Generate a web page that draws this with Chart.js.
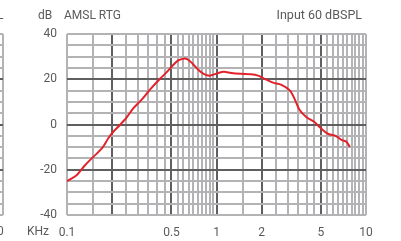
<!DOCTYPE html>
<html>
<head>
<meta charset="utf-8">
<script src="https://cdn.jsdelivr.net/npm/chart.js@4/dist/chart.umd.min.js"></script>
<style>
  html, body { margin: 0; padding: 0; background: #fff; }
</style>
</head>
<body>
<canvas id="chart" width="401" height="241"></canvas>
<script>
// frequency response
const freqs = [0.1, 0.116, 0.132, 0.15, 0.171, 0.189, 0.204, 0.226, 0.25, 0.278, 0.316, 0.36, 0.419, 0.47, 0.515, 0.555, 0.6, 0.64, 0.69, 0.755, 0.82, 0.9, 1.0, 1.12, 1.25, 1.45, 1.7, 1.9, 2.05, 2.39, 2.7, 3.1, 3.35, 3.6, 4.0, 4.5, 5.0, 5.6, 6.3, 6.9, 7.4, 7.8]
const levels = [-25, -22.4, -18, -14.3, -10.6, -6.1, -3.2, -0.2, 3, 7.2, 11, 15.5, 20.2, 23.5, 26.4, 28.3, 29.1, 28.8, 27.0, 24.2, 22.4, 21.6, 22.5, 23.3, 22.8, 22.4, 22.2, 21.6, 20.5, 18.5, 17.6, 15, 10.9, 6.4, 3.2, 1.2, -1.7, -4.2, -5.1, -6.9, -7.6, -9.9]

const xTickLabels = [0.1, 0.5, 1, 2, 5, 10]
const yTickLabels = [40, 20, 0, -20, -40]
const darkX = [0.2, 0.5, 1, 2, 5]
const darkY = [20, 0, -20]

const light = '#b3b3b5'
const dark = '#5f5f5f'
const textColor = '#5a5a5a'
const font = { family: 'Roboto', size: 12 }

// grid every 0.05 kHz below 1 kHz, every 0.5 kHz above
const gridFreqs = []
for (let i = 2; i <= 20; i++) gridFreqs.push(Math.round(i * 5) / 100)
for (let i = 3; i <= 20; i++) gridFreqs.push(i / 2)

const extraText = {
    id: 'extraText',
    afterDraw(chart) {
        const c = chart.ctx
        const y = chart.scales.y
        c.save()
        c.font = '12px Roboto'
        c.fillStyle = textColor
        c.textBaseline = 'middle'
        c.textAlign = 'left'
        c.fillText('dB', 38, 16)
        c.fillText('AMSL RTG', 64, 16)
        c.fillText('KHz', 27, 232)
        c.textAlign = 'right'
        c.font = '12.5px Roboto'
        c.fillText('Input 60 dBSPL', 362, 16)
        // edge of the neighbouring chart
        c.fillText('dBSPL', 3.5, 16)
        c.font = '12px Roboto'
        c.textAlign = 'center'
        c.fillText('10', -3, 232)
        c.lineWidth = 2
        c.strokeStyle = light
        c.beginPath()
        c.moveTo(3, y.top)
        c.lineTo(3, y.bottom)
        c.stroke()
        for (let v = -40; v <= 40; v += 5) {
            const py = Math.round(y.getPixelForValue(v))
            c.strokeStyle = darkY.includes(v) ? dark : light
            c.beginPath()
            c.moveTo(0, py)
            c.lineTo(3, py)
            c.stroke()
        }
        c.restore()
    }
}

const ctx = document.getElementById('chart').getContext('2d')

const chart = new Chart(ctx, {
    type: 'scatter',
    data: {
        datasets: [
            {
                data: freqs.map((f, i) => ({ x: f, y: levels[i] })),
                showLine: true,
                borderColor: '#e2222b',
                borderWidth: 2,
                pointRadius: 0,
                tension: 0.3,
                fill: false
            }
        ]
    },
    options: {
        responsive: false,
        animation: false,
        layout: { padding: { left: 0, right: 35, top: 34, bottom: 0 } },
        plugins: { legend: { display: false }, tooltip: { enabled: false } },
        scales: {
            x: {
                type: 'logarithmic',
                min: 0.1,
                max: 10,
                afterBuildTicks: scale => { scale.ticks = gridFreqs.map(v => ({ value: v })) },
                afterFit: scale => { scale.height = 26 },
                border: { display: false },
                grid: {
                    drawTicks: false,
                    lineWidth: 2,
                    color: c => darkX.includes(c.tick.value) ? dark : light
                },
                ticks: {
                    autoSkip: false,
                    maxRotation: 0,
                    padding: 11,
                    color: textColor,
                    font: font,
                    callback: v => xTickLabels.includes(v) ? String(v) : ''
                }
            },
            y: {
                min: -40,
                max: 40,
                afterFit: scale => { scale.width = 67 },
                border: { display: false },
                grid: {
                    drawTicks: false,
                    lineWidth: 2,
                    color: c => darkY.includes(c.tick.value) ? dark : light
                },
                ticks: {
                    stepSize: 5,
                    autoSkip: false,
                    padding: 10,
                    color: textColor,
                    font: font,
                    callback: v => yTickLabels.includes(v) ? String(v) : ''
                }
            }
        }
    },
    plugins: [extraText]
})
</script>
</body>
</html>
